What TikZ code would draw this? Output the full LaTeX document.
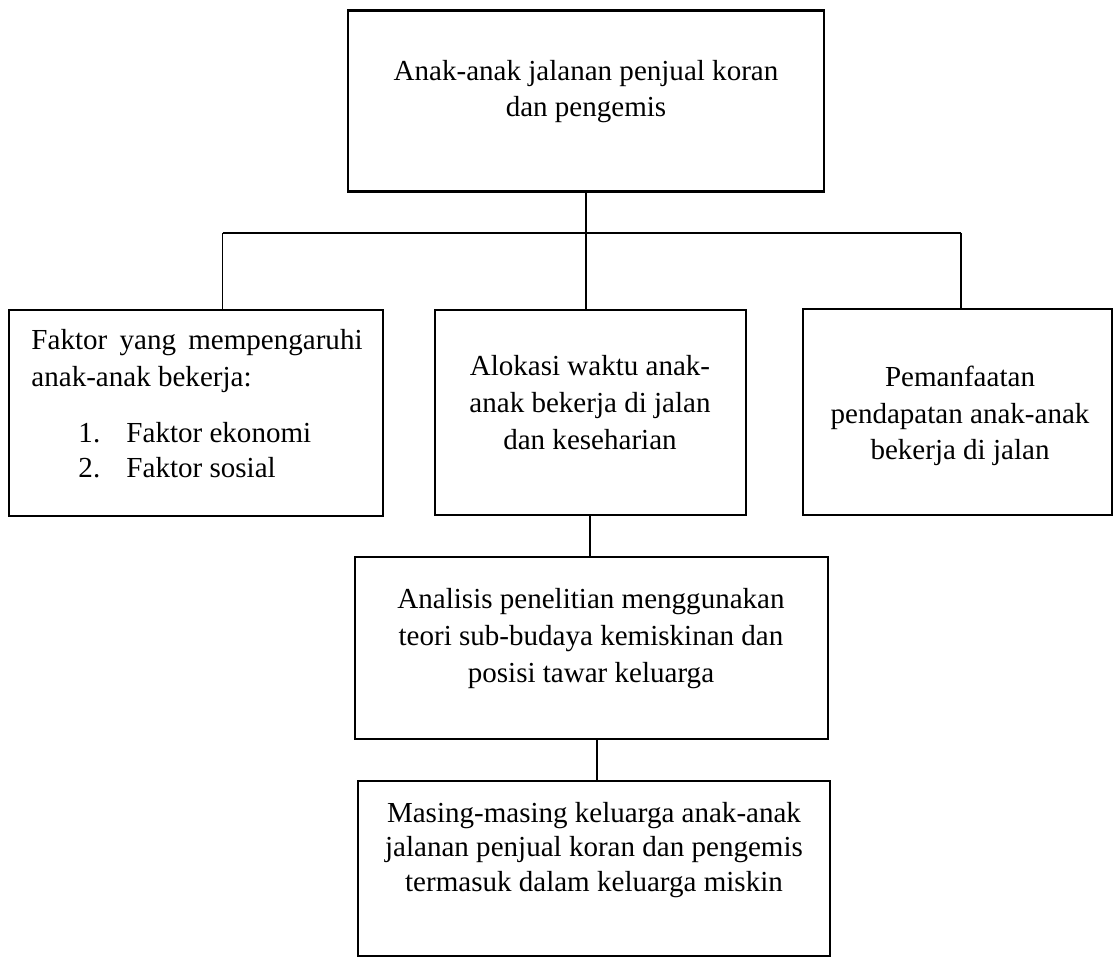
\documentclass[tikz,border=0pt]{standalone}
\usepackage{fontspec}
\setmainfont{Liberation Serif}
\begin{document}
\begin{tikzpicture}[x=0.4132pt,y=-0.4132pt,
  box/.style={draw=black,line width=0.9pt,rectangle,inner sep=0pt,outer sep=0pt},
  conn/.style={draw=black,line width=0.6pt},
  txt/.style={font=\fontsize{12pt}{15.2pt}\selectfont,align=center,inner sep=0pt},
  ltxt/.style={font=\fontsize{12pt}{15.2pt}\selectfont,inner sep=0pt,anchor=base west}]
\useasboundingbox (0,0) rectangle (1115,959);
% boxes
\node[box,minimum width={476*0.4132pt},minimum height={181*0.4132pt}] (top) at (586,101) {};
\node[box,minimum width={374*0.4132pt},minimum height={206*0.4132pt}] (left) at (196,413) {};
\node[box,minimum width={311*0.4132pt},minimum height={205*0.4132pt}] (mid) at (590.5,412.5) {};
\node[box,minimum width={309*0.4132pt},minimum height={206*0.4132pt}] (right) at (957.5,412) {};
\node[box,minimum width={473*0.4132pt},minimum height={182*0.4132pt}] (ana) at (591.5,648) {};
\node[box,minimum width={472*0.4132pt},minimum height={175*0.4132pt}] (kel) at (594,868.5) {};
% texts
\node[txt] (ttop) at (586,91.5) {Anak-anak jalanan penjual koran\\dan pengemis};
\node[ltxt] (tl1) at (31,349) {\makebox[136.8pt][s]{Faktor yang mempengaruhi}};
\node[ltxt] (tl2) at (31,386) {anak-anak bekerja:};
\node[ltxt] (tl3) at (78,442) {1.};
\node[ltxt] (tl4) at (126,442) {Faktor ekonomi};
\node[ltxt] (tl5) at (78,477) {2.};
\node[ltxt] (tl6) at (126,477) {Faktor sosial};
\node[txt] (tmid) at (590,402.5) {Alokasi waktu anak-\\anak bekerja di jalan\\dan keseharian};
\node[txt] (tright) at (960,416) {Pemanfaatan\\pendapatan anak-anak\\bekerja di jalan};
\node[txt] (tana) at (591,638.5) {Analisis penelitian menggunakan\\teori sub-budaya kemiskinan dan\\posisi tawar keluarga};
\node[txt,font=\fontsize{12pt}{14.4pt}\selectfont] (tkel) at (594,850) {Masing-masing keluarga anak-anak\\jalanan penjual koran dan pengemis\\termasuk dalam keluarga miskin};
% connectors
\coordinate (j0) at (586,233);
\coordinate (jl) at (222.7,233);
\coordinate (jr) at (961,233);
\draw[conn] (top.south) -- (j0);
\draw[conn] (jl) -- (jr);
\draw[conn] (jl) -- (jl |- left.north);
\draw[conn] (j0) -- (j0 |- mid.north);
\draw[conn] (jr) -- (jr |- right.north);
\coordinate (m1) at (590,515);
\draw[conn] (m1) -- (m1 |- ana.north);
\coordinate (m2) at (597,739);
\draw[conn] (m2) -- (m2 |- kel.north);
\end{tikzpicture}
\end{document}
